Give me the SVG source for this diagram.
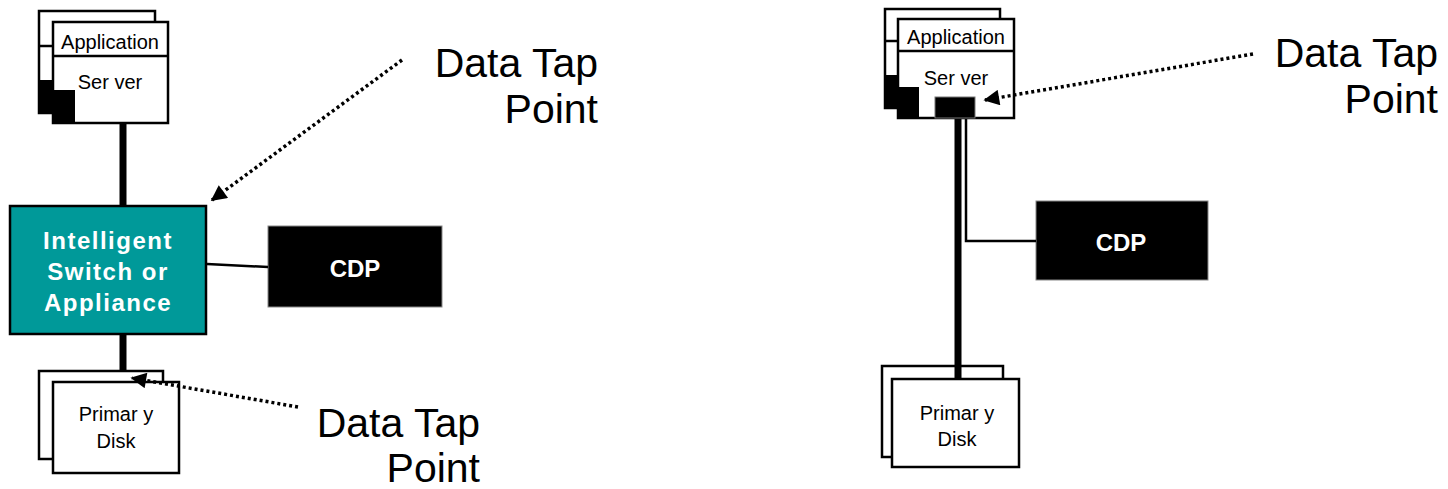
<svg xmlns="http://www.w3.org/2000/svg" width="1448" height="489" viewBox="0 0 1448 489">
<defs>
<style>
.box{fill:#fff;stroke:#000;stroke-width:2.5}
.blk{fill:#000}
.lbl{font-family:"Liberation Sans",Arial,sans-serif;font-size:20px;fill:#000;text-anchor:middle}
.big{font-family:"Liberation Sans",Arial,sans-serif;font-size:41px;fill:#000;text-anchor:end}
.wb{font-family:"Liberation Sans",Arial,sans-serif;font-weight:bold;font-size:24px;fill:#fff;text-anchor:middle;letter-spacing:1.5px}
.thick{stroke:#000;stroke-width:7;fill:none}
.thin{stroke:#000;stroke-width:2.5;fill:none}
.dot{stroke:#000;stroke-width:3.5;stroke-dasharray:3 3;fill:none}
</style>
<marker id="ah" viewBox="0 0 10 10" refX="9" refY="5" markerWidth="5" markerHeight="4.5" orient="auto" markerUnits="strokeWidth">
<path d="M0,0 L10,5 L0,10 z" fill="#000"/>
</marker>
</defs>
<rect width="1448" height="489" fill="#fff"/>

<g id="server-left">
<rect class="box" x="39" y="11" width="116" height="102"/>
<line class="thin" x1="39" y1="46" x2="53" y2="46"/>
<rect class="blk" x="39" y="80" width="14" height="33"/>
<rect class="box" x="53" y="22" width="115" height="101"/>
<line class="thin" x1="53" y1="56" x2="168" y2="56"/>
<rect class="blk" x="53" y="90" width="22" height="33"/>
<text class="lbl" x="110" y="49">Application</text>
<text class="lbl" x="110" y="89">Ser ver</text>
</g>

<g id="switch">
<rect x="10" y="206" width="196" height="128" fill="#009999" stroke="#000" stroke-width="2.5"/>
<text class="wb" x="108" y="249">Intelligent</text>
<text class="wb" x="108" y="280">Switch or</text>
<text class="wb" x="108" y="311">Appliance</text>
</g>

<g id="cdp-left">
<rect x="268" y="226" width="174" height="81" fill="#000" stroke="#888" stroke-width="1"/>
<text class="wb" x="355" y="277" style="letter-spacing:0">CDP</text>
</g>

<g id="disk-left">
<rect class="box" x="39" y="371" width="124" height="88"/>
<rect class="box" x="53" y="382" width="126" height="91"/>
<text class="lbl" x="116" y="421">Primar y</text>
<text class="lbl" x="116" y="448">Disk</text>
</g>

<g id="tap-left-top">
<text class="big" x="598" y="77">Data Tap</text>
<text class="big" x="598" y="123">Point</text>
</g>

<g id="tap-left-bottom">
<text class="big" x="480" y="437">Data Tap</text>
<text class="big" x="480" y="482">Point</text>
</g>

<g id="server-right">
<rect class="box" x="885" y="9" width="115" height="99"/>
<line class="thin" x1="885" y1="41" x2="898" y2="41"/>
<rect class="blk" x="885" y="75" width="13" height="33"/>
<rect class="box" x="898" y="19" width="116" height="99"/>
<line class="thin" x1="898" y1="51" x2="1014" y2="51"/>
<rect class="blk" x="898" y="87" width="21" height="31"/>
<rect x="935" y="97" width="40" height="21" fill="#000" stroke="#777" stroke-width="1"/>
<text class="lbl" x="956" y="44">Application</text>
<text class="lbl" x="956" y="85">Ser ver</text>
</g>

<g id="cdp-right">
<rect x="1036" y="201" width="172" height="79" fill="#000" stroke="#888" stroke-width="1"/>
<text class="wb" x="1121" y="251" style="letter-spacing:0">CDP</text>
</g>

<g id="disk-right">
<rect class="box" x="882" y="366" width="121" height="91"/>
<rect class="box" x="892" y="379" width="127" height="88"/>
<text class="lbl" x="957" y="420">Primar y</text>
<text class="lbl" x="957" y="446">Disk</text>
</g>

<g id="tap-right">
<text class="big" x="1438" y="67">Data Tap</text>
<text class="big" x="1438" y="113">Point</text>
</g>

<g id="connectors">
<line class="thick" x1="123" y1="124" x2="123" y2="205"/>
<line class="thick" x1="123" y1="335" x2="123" y2="372"/>
<line class="thin" x1="207" y1="264" x2="268" y2="267"/>
<line class="dot" x1="402" y1="60" x2="212" y2="200" marker-end="url(#ah)"/>
<line class="dot" x1="298" y1="407" x2="132" y2="378" marker-end="url(#ah)"/>
<line class="thick" x1="958" y1="119" x2="958" y2="378"/>
<polyline class="thin" points="966,119 966,241 1036,241"/>
<line class="dot" x1="1253" y1="54" x2="985" y2="100" marker-end="url(#ah)"/>
</g>
</svg>
